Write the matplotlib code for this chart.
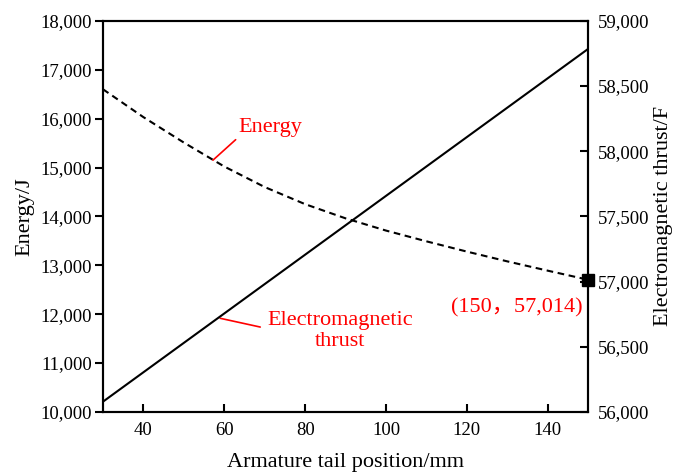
import matplotlib
matplotlib.use("Agg")
import matplotlib.pyplot as plt
from matplotlib.ticker import FuncFormatter

plt.rcParams['font.family'] = ['Liberation Serif', 'Noto Sans CJK SC', 'DejaVu Sans']

# Data
x_energy = [30, 40, 50, 60, 70, 80, 90, 100, 110, 120, 130, 140, 150]
energy = [16600, 16030, 15510, 15020, 14600, 14250, 13960, 13710, 13490, 13280, 13080, 12890, 12704]
x_thrust = [30, 150]
thrust = [56079, 58785]
marker_pt = (150, 57014)
x_ticks = [40, 60, 80, 100, 120, 140]
left_ticks = [10000, 11000, 12000, 13000, 14000, 15000, 16000, 17000, 18000]
right_ticks = [56000, 56500, 57000, 57500, 58000, 58500, 59000]

fig = plt.figure(figsize=(6.73, 4.73), dpi=100)
ax = fig.add_axes([0.153, 0.129, 0.721, 0.827])
ax2 = ax.twinx()

ax.plot(x_energy, energy, color='black', lw=1.5, ls=(0, (3.2, 2.2)))
ax2.plot(x_thrust, thrust, color='black', lw=1.5)
ax2.plot([marker_pt[0]], [marker_pt[1]], marker='s', color='black', ms=8, clip_on=False, zorder=5)

ax.set_xlim(30, 150)
ax.set_ylim(10000, 18000)
ax2.set_ylim(56000, 59000)
ax.set_xticks(x_ticks)
ax.set_yticks(left_ticks)
ax2.set_yticks(right_ticks)
fmt = FuncFormatter(lambda v, p: f"{int(v):,}")
ax.yaxis.set_major_formatter(fmt)
ax2.yaxis.set_major_formatter(fmt)

fs = 13.5
ax.tick_params(axis='x', direction='in', length=6, width=1.5, labelsize=fs, pad=7)
ax.tick_params(axis='y', direction='out', length=6, width=1.5, labelsize=fs, pad=2)
ax2.tick_params(axis='y', direction='in', length=6, width=1.5, labelsize=fs, pad=7)
for a in (ax, ax2):
    for s in a.spines.values():
        s.set_linewidth(1.5)

ax.set_xlabel('Armature tail position/mm', fontsize=16, labelpad=10)
ax.set_ylabel('Energy/J', fontsize=16, labelpad=4)
ax2.set_ylabel('Electromagnetic thrust/F', fontsize=16, labelpad=3)

# annotations
ax.annotate('Energy', xy=(57.2, 15150), xytext=(63.5, 15620), color='red', fontsize=16,
            ha='left', va='bottom',
            arrowprops=dict(arrowstyle='-', color='red', lw=1.2, shrinkA=0, shrinkB=0,
                            relpos=(0, 0)))
ax.annotate('Electromagnetic\nthrust', xy=(59, 11916), xytext=(88.7, 11655), color='red', fontsize=16,
            ha='center', va='center', linespacing=1.15,
            arrowprops=dict(arrowstyle='-', color='red', lw=1.2, shrinkA=0, shrinkB=0,
                            relpos=(-0.05, 0.6)))
ax2.text(148.7, 56795, '(150，57,014)', color='red', fontsize=16, ha='right', va='center')

fig.savefig('out.png', dpi=100)
